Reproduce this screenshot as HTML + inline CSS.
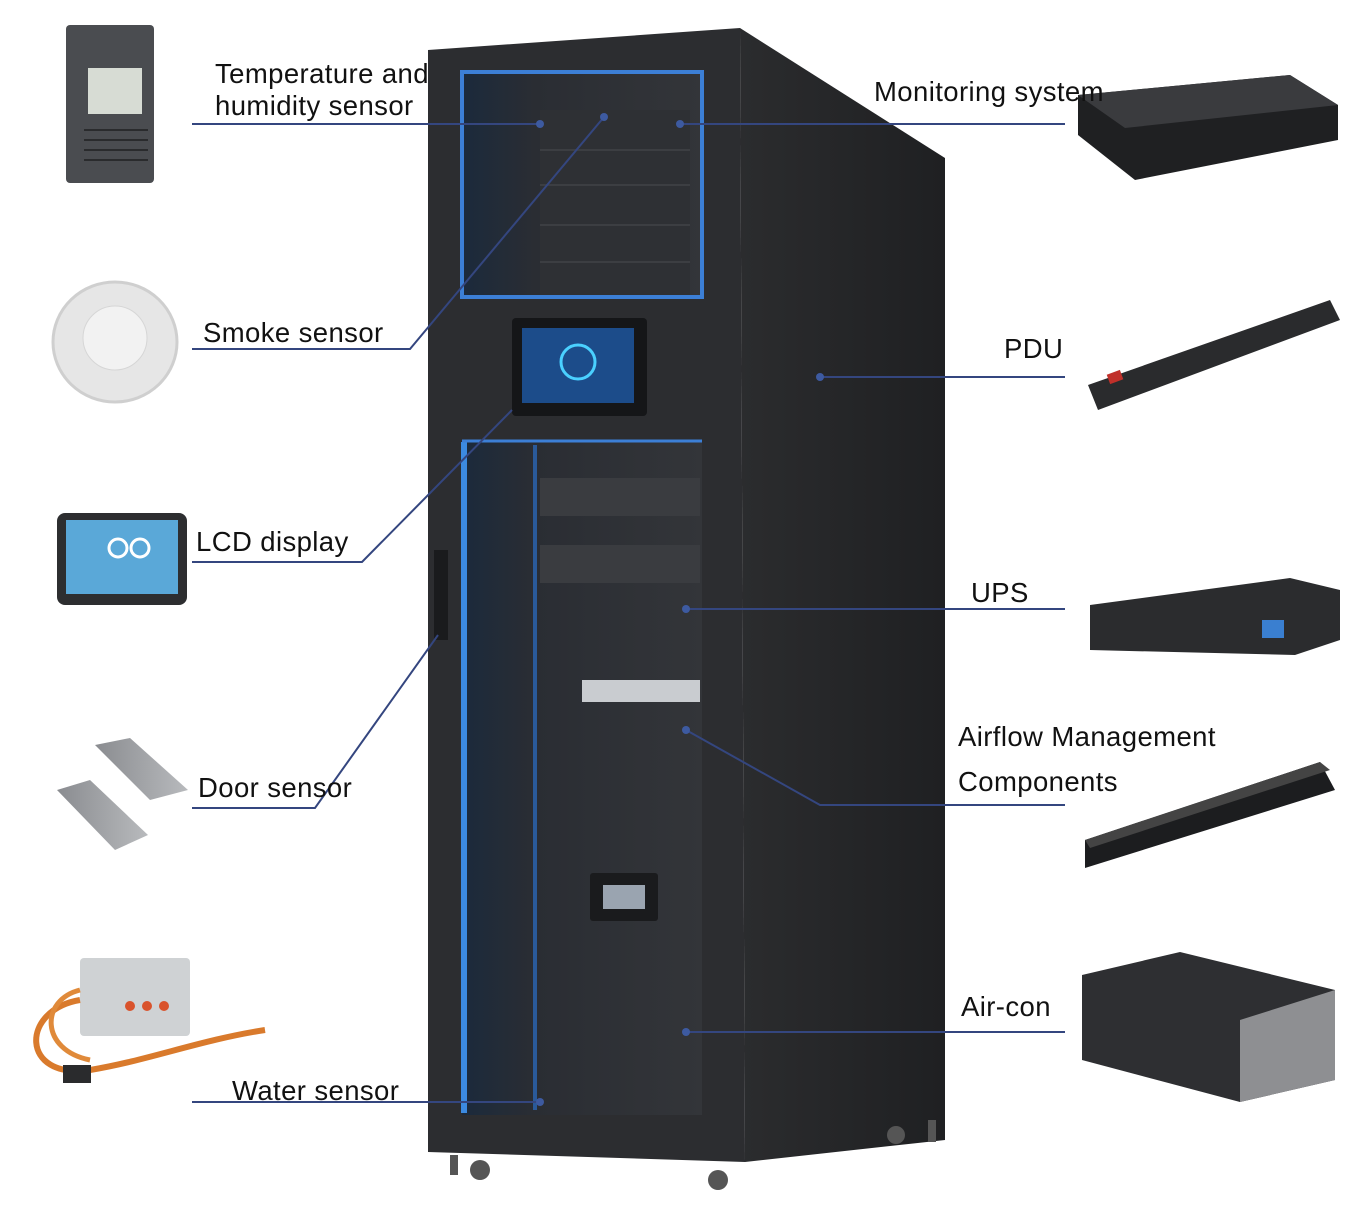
<!DOCTYPE html>
<html><head><meta charset="utf-8"><style>
html,body{margin:0;padding:0;background:#fff;}
svg{display:block;}
text{font-family:"Liberation Sans",sans-serif;fill:#111;}
</style></head><body>
<svg width="1371" height="1212" viewBox="0 0 1371 1212" xmlns="http://www.w3.org/2000/svg">
<defs>
<linearGradient id="side" x1="0" x2="1"><stop offset="0" stop-color="#2b2c2e"/><stop offset="1" stop-color="#1f2022"/></linearGradient>
<linearGradient id="glass" x1="0" x2="1"><stop offset="0" stop-color="#1b2a3c"/><stop offset="0.3" stop-color="#2a2d33"/><stop offset="1" stop-color="#333539"/></linearGradient>
<linearGradient id="gray" x1="0" x2="1"><stop offset="0" stop-color="#8a8c90"/><stop offset="1" stop-color="#b8babd"/></linearGradient>
</defs>
<polygon points="740,28 945,158 945,1140 745,1162" fill="url(#side)"/>
<polygon points="428,50 740,28 745,1162 428,1152" fill="#2c2d30"/>
<rect x="462" y="72" width="240" height="225" fill="url(#glass)"/>
<rect x="462" y="72" width="240" height="225" fill="none" stroke="#3c7fd6" stroke-width="4"/>
<rect x="540" y="110" width="150" height="185" fill="#2e3034"/>
<g stroke="#3c3e42" stroke-width="2"><line x1="540" y1="150" x2="690" y2="150"/><line x1="540" y1="185" x2="690" y2="185"/><line x1="540" y1="225" x2="690" y2="225"/><line x1="540" y1="262" x2="690" y2="262"/></g>
<rect x="512" y="318" width="135" height="98" rx="4" fill="#151618"/>
<rect x="522" y="328" width="112" height="75" fill="#1c4c8a"/>
<circle cx="578" cy="362" r="17" fill="none" stroke="#4ad0ff" stroke-width="3"/>
<rect x="462" y="440" width="240" height="675" fill="url(#glass)"/>
<line x1="464" y1="442" x2="464" y2="1113" stroke="#3c8ae0" stroke-width="6"/>
<line x1="462" y1="441" x2="702" y2="441" stroke="#3c7fd6" stroke-width="3"/>
<line x1="535" y1="445" x2="535" y2="1110" stroke="#2a5a9a" stroke-width="4"/>
<rect x="540" y="478" width="160" height="38" fill="#3a3c40"/>
<rect x="540" y="545" width="160" height="38" fill="#3a3c40"/>
<rect x="582" y="680" width="118" height="22" fill="#c9ccd0"/>
<rect x="590" y="873" width="68" height="48" rx="3" fill="#1a1b1d"/>
<rect x="603" y="885" width="42" height="24" fill="#9aa4b0"/>
<rect x="434" y="550" width="14" height="90" fill="#1a1b1d"/>
<g fill="#555"><circle cx="480" cy="1170" r="10"/><circle cx="718" cy="1180" r="10"/><circle cx="896" cy="1135" r="9"/><rect x="450" y="1155" width="8" height="20"/><rect x="928" y="1120" width="8" height="22"/></g>

<rect x="66" y="25" width="88" height="158" rx="4" fill="#4a4c50"/>
<rect x="88" y="68" width="54" height="46" fill="#d7dcd4"/>
<g stroke="#2a2b2d" stroke-width="2"><line x1="84" y1="130" x2="148" y2="130"/><line x1="84" y1="140" x2="148" y2="140"/><line x1="84" y1="150" x2="148" y2="150"/><line x1="84" y1="160" x2="148" y2="160"/></g>
<ellipse cx="115" cy="342" rx="62" ry="60" fill="#e6e6e6" stroke="#cfcfcf" stroke-width="3"/>
<circle cx="115" cy="338" r="32" fill="#f2f2f2" stroke="#d6d6d6"/>
<rect x="57" y="513" width="130" height="92" rx="8" fill="#2d2e30"/>
<rect x="66" y="520" width="112" height="74" fill="#5aa8d8"/>
<circle cx="118" cy="548" r="9" fill="none" stroke="#fff" stroke-width="3"/><circle cx="140" cy="548" r="9" fill="none" stroke="#fff" stroke-width="3"/>
<polygon points="95,745 130,738 188,790 150,800" fill="url(#gray)"/>
<polygon points="57,790 90,780 148,835 115,850" fill="url(#gray)"/>
<rect x="80" y="958" width="110" height="78" rx="4" fill="#cfd2d4"/>
<g fill="#d9532c"><circle cx="130" cy="1006" r="5"/><circle cx="147" cy="1006" r="5"/><circle cx="164" cy="1006" r="5"/></g>
<path d="M80,1000 C20,1010 20,1080 90,1070 C150,1060 200,1040 265,1030" fill="none" stroke="#d97a2c" stroke-width="6"/>
<path d="M80,990 C40,1000 40,1050 90,1060" fill="none" stroke="#e08a3a" stroke-width="5"/>
<rect x="63" y="1065" width="28" height="18" fill="#2a2b2d"/>

<polygon points="1078,95 1290,75 1338,105 1338,140 1135,180 1078,135" fill="#1f2022"/>
<polygon points="1078,95 1290,75 1338,105 1125,128" fill="#3a3b3e"/>
<polygon points="1088,385 1330,300 1340,320 1098,410" fill="#2a2b2d"/>
<rect x="1108" y="372" width="14" height="10" fill="#c0302a" transform="rotate(-20 1115 377)"/>
<polygon points="1090,605 1290,578 1340,590 1340,640 1295,655 1090,650" fill="#2b2c2e"/>
<rect x="1262" y="620" width="22" height="18" fill="#3a7fd0"/>
<polygon points="1085,840 1320,762 1335,790 1085,868" fill="#1c1d1f"/>
<polygon points="1085,840 1320,762 1330,770 1090,848" fill="#444"/>
<polygon points="1082,975 1180,952 1335,990 1335,1080 1240,1102 1082,1060" fill="#2e2f32"/>
<polygon points="1240,1020 1335,990 1335,1080 1240,1102" fill="#8e8f92"/>

<g fill="none" stroke="#34467f" stroke-width="2">
<polyline points="192,124 540,124"/>
<polyline points="680,124 1065,124"/>
<polyline points="192,349 410,349 604,117"/>
<polyline points="192,562 362,562 512,410"/>
<polyline points="192,808 315,808 438,635"/>
<polyline points="192,1102 540,1102"/>
<polyline points="820,377 1065,377"/>
<polyline points="686,609 1065,609"/>
<polyline points="686,730 820,805 1065,805"/>
<polyline points="686,1032 1065,1032"/>
</g>
<g fill="#3d5aa0"><circle cx="540" cy="124" r="4"/><circle cx="604" cy="117" r="4"/><circle cx="680" cy="124" r="4"/><circle cx="820" cy="377" r="4"/><circle cx="686" cy="609" r="4"/><circle cx="686" cy="730" r="4"/><circle cx="686" cy="1032" r="4"/><circle cx="540" cy="1102" r="4"/></g>

<g font-size="27.5" letter-spacing="0.4">
<text x="215" y="83">Temperature and</text>
<text x="215" y="115">humidity sensor</text>
<text x="203" y="342">Smoke sensor</text>
<text x="196" y="551">LCD display</text>
<text x="198" y="797">Door sensor</text>
<text x="232" y="1100">Water sensor</text>
<text x="874" y="101">Monitoring system</text>
<text x="1004" y="358">PDU</text>
<text x="971" y="602">UPS</text>
<text x="958" y="746" fill="#333">Airflow Management</text>
<text x="958" y="791" fill="#333">Components</text>
<text x="961" y="1016" fill="#333">Air-con</text>
</g>
</svg>
</body></html>
